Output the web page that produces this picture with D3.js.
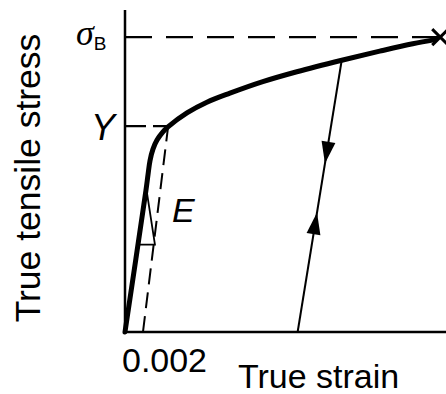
<!DOCTYPE html>
<html lang="en">
<head>
  <meta charset="UTF-8">
  <title>True stress - true strain</title>
  <style>
    body { margin: 0; background: #fff; }
    svg { display: block; }
  </style>
</head>
<body>
  <div id="chart"></div>
  <script src="https://d3js.org/d3.v7.min.js"></script>
  <script>
    // flow curve (strain as fraction, stress in MPa-ish units)
    const strain = [0, 0.00233, 0.00256, 0.00278, 0.00311, 0.00356, 0.00422, 0.00478,
      0.00689, 0.00911, 0.01167, 0.01533, 0.01911, 0.02411, 0.02833, 0.032, 0.0345];
    const stress = [0, 172, 191, 208, 222, 233, 243, 249,
      266, 279, 290, 304, 316, 330, 341, 350, 355];

    const yieldStress = 250;
    const tensileStrength = 358;
    const offsetStrain = 0.002;
    const offsetTopStrain = 0.0048;

    // unloading / reloading line
    const unloadStrain = [0.0241, 0.0192];
    const unloadStress = [330, 0];
    const arrowPos = [0.38, 0.56];     // fraction along the line (from top)
    const arrowDir = [1, -1];          // 1 = down, -1 = up

    // slope triangle for E
    const triStrain = [0.0024, 0.00333, 0.00143];
    const triStress = [172, 106, 106];

    const width = 446, height = 394;
    const margin = { top: 10, right: 0, bottom: 62, left: 125 };

    const svg = d3.select("#chart")
      .append("svg")
      .attr("width", width)
      .attr("height", height);

    const x = d3.scaleLinear()
      .domain([0, 0.0357])
      .range([margin.left, width - margin.right]);

    const y = d3.scaleLinear()
      .domain([0, 391])
      .range([height - margin.bottom, margin.top]);

    const font = "'Liberation Sans', Arial, sans-serif";

    // axes (plain lines, no ticks)
    svg.append("line")
      .attr("x1", x(0)).attr("x2", x(0))
      .attr("y1", y(0)).attr("y2", y(391))
      .attr("stroke", "#000").attr("stroke-width", 2.5);
    svg.append("line")
      .attr("x1", x(0) - 1).attr("x2", x(0.0357))
      .attr("y1", y(0)).attr("y2", y(0))
      .attr("stroke", "#000").attr("stroke-width", 2.5);

    // dashed guide lines
    svg.append("line")
      .attr("x1", x(0)).attr("x2", x(strain[strain.length - 1]) + 5)
      .attr("y1", y(tensileStrength)).attr("y2", y(tensileStrength))
      .attr("stroke", "#000").attr("stroke-width", 2.2)
      .attr("stroke-dasharray", "27,14");
    svg.append("line")
      .attr("x1", x(0)).attr("x2", x(offsetTopStrain))
      .attr("y1", y(yieldStress)).attr("y2", y(yieldStress))
      .attr("stroke", "#000").attr("stroke-width", 2.2)
      .attr("stroke-dasharray", "21,7");
    svg.append("line")
      .attr("x1", x(offsetStrain)).attr("x2", x(offsetTopStrain))
      .attr("y1", y(0)).attr("y2", y(yieldStress))
      .attr("stroke", "#000").attr("stroke-width", 2)
      .attr("stroke-dasharray", "16,8");

    // slope triangle
    svg.append("path")
      .attr("d", d3.line()(triStrain.map((s, i) => [x(s), y(triStress[i])])))
      .attr("fill", "none")
      .attr("stroke", "#000")
      .attr("stroke-width", 1.8);

    // main curve
    const pts = strain.map((s, i) => [s, stress[i]]);
    svg.append("path")
      .datum(pts)
      .attr("fill", "none")
      .attr("stroke", "#000")
      .attr("stroke-width", 5)
      .attr("stroke-linecap", "round")
      .attr("d", d3.line().x(d => x(d[0])).y(d => y(d[1])).curve(d3.curveCatmullRom.alpha(0.5)));

    // fracture marker
    const last = pts[pts.length - 1];
    const cx = x(last[0]) + 5, cy = y(tensileStrength);
    svg.append("path")
      .attr("d", `M${cx - 8},${cy - 8}L${cx + 8},${cy + 8}M${cx - 8},${cy + 8}L${cx + 8},${cy - 8}`)
      .attr("stroke", "#000").attr("stroke-width", 3);

    // unloading line with arrows
    const ux1 = x(unloadStrain[0]), uy1 = y(unloadStress[0]);
    const ux2 = x(unloadStrain[1]), uy2 = y(unloadStress[1]);
    svg.append("line")
      .attr("x1", ux1).attr("y1", uy1).attr("x2", ux2).attr("y2", uy2)
      .attr("stroke", "#000").attr("stroke-width", 2);

    const len = Math.hypot(ux2 - ux1, uy2 - uy1);
    const ex = (ux2 - ux1) / len, ey = (uy2 - uy1) / len;
    arrowPos.forEach((t, i) => {
      const tx = ux1 + (ux2 - ux1) * t, ty = uy1 + (uy2 - uy1) * t;
      const dx = ex * arrowDir[i], dy = ey * arrowDir[i];
      const bx = tx - dx * 22, by = ty - dy * 22;
      svg.append("path")
        .attr("d", `M${tx},${ty}L${bx - dy * 7},${by + dx * 7}L${bx + dy * 7},${by - dx * 7}Z`)
        .attr("fill", "#000");
    });

    // labels
    svg.append("text")
      .attr("transform", `translate(40,${(y(0) + y(391)) / 2 + 7}) rotate(-90)`)
      .attr("text-anchor", "middle")
      .attr("font-family", font)
      .attr("font-size", 35.5)
      .text("True tensile stress");

    svg.append("text")
      .attr("x", 122).attr("y", 372)
      .attr("font-family", font)
      .attr("font-size", 34)
      .attr("textLength", 85)
      .text("0.002");

    svg.append("text")
      .attr("x", 238).attr("y", 388)
      .attr("font-family", font)
      .attr("font-size", 34)
      .text("True strain");

    svg.append("text")
      .attr("x", 115).attr("y", y(yieldStress) + 14)
      .attr("text-anchor", "end")
      .attr("font-family", font)
      .attr("font-style", "italic")
      .attr("font-size", 36)
      .text("Y");

    const sb = svg.append("text")
      .attr("x", 76).attr("y", y(tensileStrength) + 8)
      .attr("font-family", "'Liberation Serif', serif")
      .attr("font-style", "italic")
      .attr("font-size", 36)
      .text("σ");
    sb.append("tspan")
      .attr("dy", 5)
      .attr("font-family", font)
      .attr("font-style", "normal")
      .attr("font-size", 19)
      .text("B");

    svg.append("text")
      .attr("x", 172).attr("y", 222)
      .attr("font-family", font)
      .attr("font-style", "italic")
      .attr("font-size", 34)
      .text("E");
  </script>
</body>
</html>
